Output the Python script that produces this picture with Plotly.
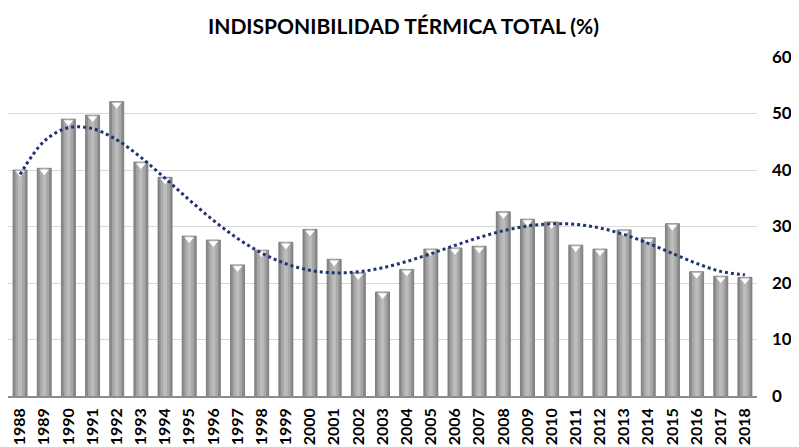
import numpy as np
import plotly.graph_objects as go

years = [str(y) for y in range(1988, 2019)]
values = [40.0, 40.3, 49.0, 49.7, 52.1, 41.4, 38.7, 28.3, 27.6, 23.2, 25.8,
          27.2, 29.5, 24.2, 21.8, 18.4, 22.4, 26.0, 26.2, 26.5, 32.6, 31.3,
          30.8, 26.7, 26.0, 29.4, 28.0, 30.5, 22.0, 21.2, 21.0]
y_ticks = [0, 10, 20, 30, 40, 50, 60]

# polynomial trendline (like Excel's polynomial trendline) computed from the data
idx = np.arange(1, len(values) + 1)
coef = np.polyfit(idx, values, 5)
trend = np.polyval(coef, idx)

FONT = "Lato"
W, H = 791, 439  # page body has an 8px margin
fig = go.Figure()
fig.add_bar(x=years, y=values, width=0.58, marker=dict(color="#8c8c8c", line=dict(color="#707070", width=0.8)),
            hoverinfo="skip")
fig.add_bar(x=years, y=values, width=0.38, marker=dict(color="#a8a8a8", line=dict(width=0)), hoverinfo="skip")
fig.add_bar(x=years, y=values, width=0.16, marker=dict(color="#bcbcbc", line=dict(width=0)), hoverinfo="skip")
fig.add_scatter(x=years, y=[v - 0.55 for v in values], mode="markers",
                marker=dict(symbol="triangle-down", size=9, color="white", line=dict(color="#9a9a9a", width=0.5)),
                hoverinfo="skip")
fig.add_scatter(x=years, y=trend, mode="lines", line=dict(color="#1f3470", width=3, dash="dot", shape="spline"),
                hoverinfo="skip")

fig.update_layout(
    width=W, height=H,
    margin=dict(l=0, r=42, t=49, b=51, autoexpand=False),
    barmode="overlay", bargap=0.42,
    showlegend=False,
    plot_bgcolor="white", paper_bgcolor="white",
    title=dict(text="<b>INDISPONIBILIDAD TÉRMICA TOTAL (%)</b>", x=0.5, xanchor="center",
               y=1 - 19 / H, yanchor="middle",
               font=dict(family=FONT, size=21, color="#000000")),
    font=dict(family=FONT, color="#000000"),
)
fig.update_xaxes(type="category", range=[-0.5, len(years) - 0.5], tickangle=-90, showgrid=False,
                 automargin=False, showline=True, linecolor="#8c8c8c", linewidth=1.5,
                 tickfont=dict(family=FONT, size=16, color="#000000", weight="bold"),
                 ticks="", ticklabelstandoff=4)
fig.update_yaxes(side="right", range=[0, 60], tickvals=y_ticks, showgrid=True, automargin=False,
                 gridcolor="#d9d9d9", gridwidth=1, zeroline=False, showline=False,
                 tickfont=dict(family=FONT, size=17, color="#000000", weight="bold"),
                 ticklabelstandoff=14)

fig.write_html("out.html")
